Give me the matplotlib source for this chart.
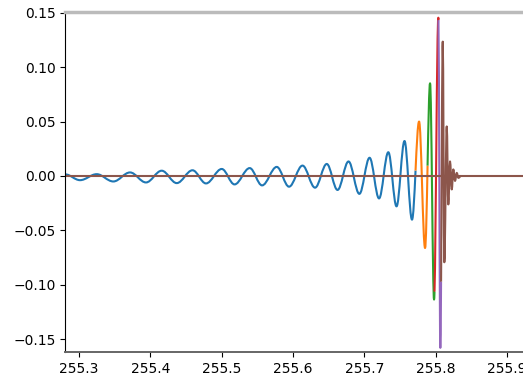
import numpy as np
import matplotlib
matplotlib.use("Agg")
import matplotlib.pyplot as plt
from matplotlib.path import Path
from matplotlib.patches import PathPatch

# successive extrema of the strain signal (time [s], amplitude)
ext_time = [255.2808, 255.3014, 255.3248, 255.3481, 255.3715, 255.3939,
            255.4159, 255.4370, 255.4591, 255.4780, 255.5001, 255.5180,
            255.5393, 255.5566, 255.5772, 255.5944, 255.6133, 255.6309,
            255.6473, 255.6624, 255.6778, 255.6930, 255.7073, 255.7206,
            255.7336, 255.7451, 255.7563, 255.7668, 255.7767, 255.7851,
            255.7921, 255.7977, 255.8037, 255.8065, 255.8099, 255.8121,
            255.8155, 255.8177, 255.8201, 255.8225, 255.8247, 255.8271,
            255.8295, 255.8318, 255.8355]
ext_value = [0.0014, -0.0039, 0.0016, -0.0051, 0.0032, -0.0060,
             0.0048, -0.0066, 0.0052, -0.0069, 0.0064, -0.0078,
             0.0072, -0.0087, 0.0083, -0.0099, 0.0095, -0.0108,
             0.0110, -0.0129, 0.0133, -0.0165, 0.0167, -0.0207,
             0.0218, -0.0280, 0.0321, -0.0402, 0.0500, -0.0663,
             0.0852, -0.1137, 0.1455, -0.1581, 0.1235, -0.0794,
             0.0455, -0.0262, 0.0133, -0.0124, 0.0060, -0.0046,
             0.0028, -0.0018, 0.0]

# pieces of the signal (fractional index into the extrema list)
piece_bounds = [0, 27.5, 29.5, 31.1, 32.05, 33.3, 44]
piece_colors = ['tab:blue', 'tab:orange', 'tab:green', 'tab:red',
                'tab:purple', 'tab:brown']

# last piece is zero outside the ringdown
base_time = [255.2808, 255.96]
base_value = [0.0, 0.0]

K = 1 - 2 / np.pi  # bezier handle giving a cosine-like half wave


def lerp(a, b, u):
    return a + (b - a) * u


def split(p, u):
    a, b, c = lerp(p[0], p[1], u), lerp(p[1], p[2], u), lerp(p[2], p[3], u)
    d, e = lerp(a, b, u), lerp(b, c, u)
    f = lerp(d, e, u)
    return [p[0], a, d, f], [f, e, c, p[3]]


def edge(i):
    p0 = np.array([ext_time[i], ext_value[i]])
    p3 = np.array([ext_time[i + 1], ext_value[i + 1]])
    dt = p3[0] - p0[0]
    return [p0, p0 + [K * dt, 0], p3 - [K * dt, 0], p3]


def piece_path(a, b):
    verts, codes = [], []
    for i in range(int(np.floor(a)), int(np.ceil(b))):
        u0, u1 = max(a - i, 0.0), min(b - i, 1.0)
        if u1 <= u0:
            continue
        c = edge(i)
        if u1 < 1:
            c = split(c, u1)[0]
        if u0 > 0:
            c = split(c, u0 / u1)[1]
        if not verts:
            verts.append(c[0])
            codes.append(Path.MOVETO)
        verts += [c[1], c[2], c[3]]
        codes += [Path.CURVE4] * 3
    return Path(np.array(verts), codes)


fig = plt.figure(figsize=(5.23, 3.77), dpi=100)
ax = fig.add_axes([0.1249, 0.065, 0.9264, 0.9024])

for j, col in enumerate(piece_colors):
    p = piece_path(piece_bounds[j], piece_bounds[j + 1])
    ax.add_patch(PathPatch(p, fill=False, edgecolor=col, lw=1.5,
                           joinstyle='round', capstyle='butt'))

ax.plot(base_time, base_value, color='tab:brown', lw=1.5)

ax.set_xlim(255.2808, 255.96)
ax.set_ylim(-0.1624, 0.1505)
ax.set_xticks(np.arange(255.3, 255.95, 0.1))
ax.set_yticks(np.arange(-0.15, 0.16, 0.05))
ax.tick_params(labelsize=10)

ax.spines['top'].set_color('#bbbbbb')
ax.spines['top'].set_linewidth(2.5)
ax.spines['bottom'].set_color('#666666')
ax.spines['bottom'].set_linewidth(1.4)

fig.savefig("out.png", dpi=100)
